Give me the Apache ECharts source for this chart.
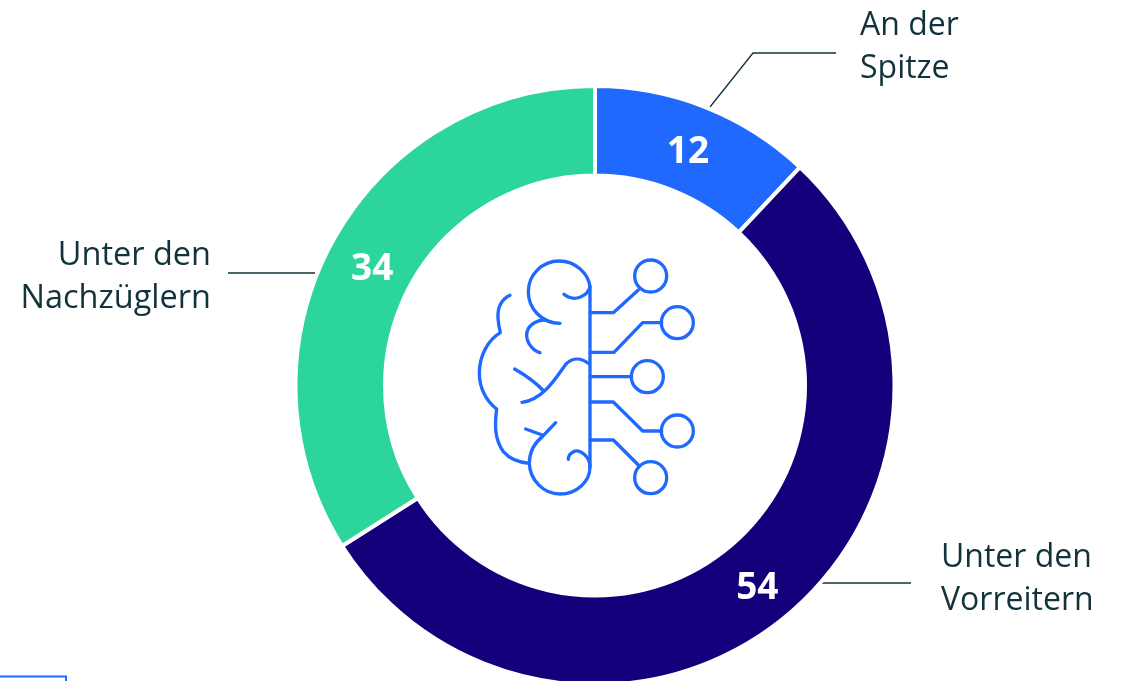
<!DOCTYPE html>
<html><head><meta charset="utf-8">
<style>html,body{margin:0;padding:0;background:#fff}#c{width:1122px;height:681px}</style>
<script src="https://cdn.jsdelivr.net/npm/echarts@6/dist/echarts.min.js"></script>
</head><body><div id="c"></div>
<script>
const categories = ['An der\nSpitze', 'Unter den\nVorreitern', 'Unter den\nNachzüglern'];
const values = [12, 54, 34];
const colors = ['#1f69ff', '#14007a', '#2cd599'];
const FONT = '"Open Sans","Noto Sans",sans-serif';
const INK = '#12323c', ICON = '#1f69ff';

const iconPaths = [
 'M390 140 L390 680',
 'M300 250 C245 250 205 205 205 155 C205 105 245 63 298 63 C345 63 385 100 390 140 C385 165 345 190 312 163',
 'M255 240 C225 240 200 260 200 285 C200 310 220 333 240 338',
 'M150 166 C125 178 112 200 114 235 C115 250 118 265 121 278 C85 300 58 345 58 400 C58 445 80 485 110 507 C103 560 105 600 130 635 C150 658 180 668 208 670',
 'M287 548 L247 590 C222 610 208 640 208 670 C210 720 250 762 300 762 C350 762 390 725 390 680 C390 650 360 625 340 635 C330 640 325 650 325 658',
 'M197 567 L247 585',
 'M388 372 C360 350 335 355 318 372 C290 410 250 480 186 487',
 'M164 387 C195 405 225 425 248 450',
 'M390 218 H460 L535 150',
 'M390 337 H462 L548 248 H605',
 'M390 410 H515',
 'M390 486 H460 L548 573 H605',
 'M390 600 H460 L535 675'
];
const iconCircles = [[572,108],[652,248],[562,410],[652,573],[572,713]];

iconPaths.forEach((d, i) => echarts.graphic.registerShape('iconPath' + i, echarts.graphic.extendPath(d, {})));

const icon = {
  type: 'group', x: 460, y: 240, scaleX: 1/3, scaleY: 1/3,
  children: iconPaths.map((d, i) => ({
    type: 'iconPath' + i,
    style: { fill: null, stroke: ICON, lineWidth: 10, lineCap: 'round', lineJoin: 'round' }
  })).concat(iconCircles.map(c => ({
    type: 'circle', shape: { cx: c[0], cy: c[1], r: 48 },
    style: { fill: null, stroke: ICON, lineWidth: 10 }
  })))
};
const leader = pts => ({ type: 'polyline', shape: { points: pts }, style: { fill: null, stroke: INK, lineWidth: 1.3 } });
const label = (text, x, y, align, size) => ({
  type: 'text', x, y,
  style: { text, fill: INK, font: '400 ' + size + 'px ' + FONT, lineHeight: 43, align, verticalAlign: 'middle' }
});

const chart = echarts.init(document.getElementById('c'), null, { renderer: 'canvas' });
chart.setOption({
  animation: false,
  backgroundColor: '#fff',
  series: [{
    type: 'pie',
    center: [595, 385.5],
    radius: [210, 299.5],
    startAngle: 90,
    clockwise: true,
    silent: true,
    data: categories.map((n, i) => ({ name: n, value: values[i], itemStyle: { color: colors[i] } })),
    itemStyle: { borderColor: '#fff', borderWidth: 4 },
    label: { show: true, position: 'inside', formatter: '{c}', color: '#fff', fontFamily: FONT, fontWeight: 700, fontSize: 37 },
    labelLine: { show: false },
    labelLayout: p => ({ dx: [-2, -2, 3][p.dataIndex], dy: [7, 4, 8][p.dataIndex] })
  }],
  graphic: [
    icon,
    leader([[710,107],[753,53],[836,53]]),
    leader([[228,273],[315,273]]),
    leader([[822,583],[911,583]]),
    label(categories[0], 860, 47, 'left', 32),
    label(categories[1], 941, 579, 'left', 32),
    label(categories[2], 211, 277, 'right', 32.5),
    { type: 'polyline', shape: { points: [[0,676.5],[66,676.5],[66,681]] }, style: { fill: null, stroke: ICON, lineWidth: 2 } }
  ]
});
</script></body></html>
